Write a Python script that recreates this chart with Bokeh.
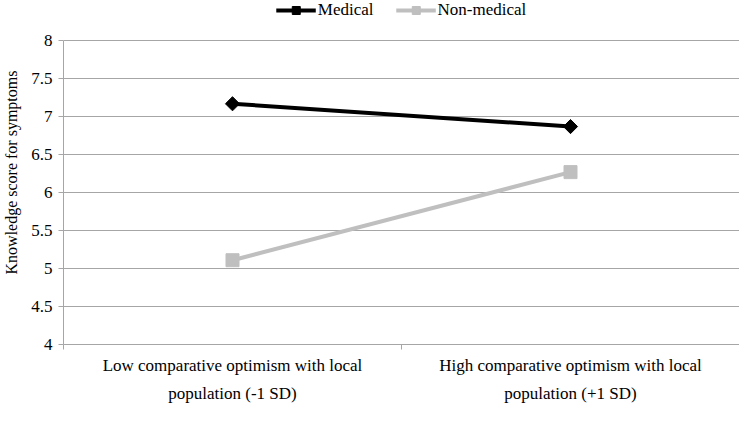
import math
from bokeh.plotting import figure
from bokeh.models import FixedTicker, LinearAxis
from bokeh.embed import file_html
from bokeh.resources import INLINE

categories_line1 = ["Low comparative optimism with local",
                    "High comparative optimism with local"]
categories_line2 = ["population (-1 SD)", "population (+1 SD)"]
medical = [7.17, 6.87]
non_medical = [5.11, 6.27]
y_ticks = [4, 4.5, 5, 5.5, 6, 6.5, 7, 7.5, 8]

n = len(categories_line1)
xs = [i + 0.5 for i in range(n)]
bounds = list(range(n + 1))
FONT = "'Liberation Serif', 'Times New Roman', serif"
GRID = "#a6a6a6"
y_lo, y_hi = y_ticks[0], y_ticks[-1]

p = figure(width=739, height=405, output_backend="svg", toolbar_location=None,
           x_range=(0, n), y_range=(y_lo, y_hi + 0.53),
           min_border_top=0, min_border_right=0, min_border_bottom=0,
           min_border_left=60)
p.outline_line_color = None

p.line(xs, medical, line_color="#000000", line_width=4, legend_label="Medical")
p.scatter(xs, medical, marker="square", size=10, angle=math.pi / 4,
          fill_color="#000000", line_color="#000000", legend_label="Medical")
p.line(xs, non_medical, line_color="#bfbfbf", line_width=4, legend_label="Non-medical")
p.scatter(xs, non_medical, marker="square", size=13, fill_color="#bfbfbf",
          line_color="#bfbfbf", legend_label="Non-medical")

ya = p.yaxis[0]
ya.ticker = FixedTicker(ticks=y_ticks)
ya.bounds = (y_lo, y_hi)
ya.axis_label = "Knowledge score for symptoms"
ya.axis_label_text_font = FONT
ya.axis_label_text_font_style = "normal"
ya.axis_label_text_font_size = "16px"
ya.axis_label_text_color = "#000000"
ya.axis_label_standoff = 8
ya.major_label_text_font = FONT
ya.major_label_text_font_size = "17px"
ya.major_label_text_color = "#000000"
ya.major_label_standoff = 6
ya.axis_line_color = GRID
ya.major_tick_line_color = GRID
ya.major_tick_in = 0
ya.major_tick_out = 5
ya.minor_tick_line_color = None

# x axis line with ticks at the category boundaries
xb = p.xaxis[0]
xb.ticker = FixedTicker(ticks=bounds)
xb.major_label_overrides = {b: "" for b in bounds}
xb.major_label_text_font_size = "1px"
xb.major_label_standoff = 0
xb.axis_line_color = GRID
xb.major_tick_line_color = GRID
xb.major_tick_in = 0
xb.major_tick_out = 5
xb.minor_tick_line_color = None

def label_axis(lines, standoff):
    ax = LinearAxis(ticker=FixedTicker(ticks=xs))
    ax.major_label_overrides = {x: c for x, c in zip(xs, lines)}
    ax.major_label_text_font = FONT
    ax.major_label_text_font_size = "17px"
    ax.major_label_text_color = "#000000"
    ax.major_label_standoff = standoff
    ax.axis_line_color = None
    ax.major_tick_line_color = None
    ax.minor_tick_line_color = None
    p.add_layout(ax, "below")

label_axis(categories_line1, 0)
label_axis(categories_line2, 0)

p.xgrid.visible = False
p.ygrid.ticker = FixedTicker(ticks=y_ticks)
p.ygrid.grid_line_color = GRID

lg = p.legend[0]
lg.orientation = "horizontal"
lg.location = "top_center"
lg.label_text_font = FONT
lg.label_text_font_size = "17px"
lg.label_text_color = "#000000"
lg.border_line_color = None
lg.background_fill_alpha = 0
lg.glyph_width = 40
lg.spacing = 22
lg.label_standoff = 2
lg.margin = 0
lg.padding = 2

open("out.html", "w").write(file_html(p, INLINE))
